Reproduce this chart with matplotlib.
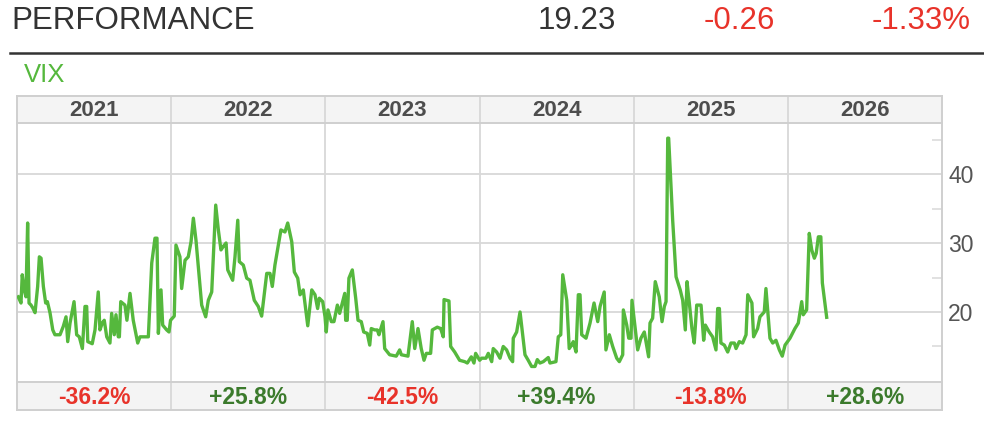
import matplotlib
matplotlib.use("Agg")
import matplotlib.pyplot as plt

plt.rcParams['font.family'] = ['Liberation Sans', 'DejaVu Sans']

# header figures
last_close = 19.23
day_change = -0.26
day_change_pct = -1.33

years = ['2021', '2022', '2023', '2024', '2025', '2026']
year_change = [-36.2, 25.8, -42.5, 39.4, -13.8, 28.6]

# VIX closes; t = years since 1 Jan 2021
t = [0.008, 0.026, 0.034, 0.047, 0.058, 0.069, 0.078, 0.091, 0.102, 0.117,
     0.134, 0.145, 0.156, 0.171, 0.186, 0.197, 0.214, 0.232, 0.246, 0.279,
     0.300, 0.318, 0.329, 0.344, 0.370, 0.387, 0.404, 0.424, 0.441, 0.452,
     0.459, 0.488, 0.506, 0.527, 0.538, 0.553, 0.566, 0.582, 0.603, 0.614,
     0.631, 0.642, 0.657, 0.664, 0.673, 0.700, 0.713, 0.733, 0.754, 0.783,
     0.798, 0.852, 0.874, 0.895, 0.908, 0.917, 0.934, 0.945, 0.971, 0.986,
     0.996,
     1.020, 1.031, 1.057, 1.068, 1.090, 1.111, 1.129, 1.144, 1.161, 1.198,
     1.224, 1.241, 1.263, 1.289, 1.306, 1.323, 1.338, 1.356, 1.367, 1.399,
     1.414, 1.432, 1.442, 1.468, 1.490, 1.511, 1.539, 1.565, 1.587, 1.620,
     1.641, 1.656, 1.673, 1.712, 1.738, 1.756, 1.782, 1.799, 1.821, 1.836,
     1.857, 1.886, 1.912, 1.933, 1.950, 1.961, 1.983, 1.998,
     2.006, 2.017, 2.039, 2.056, 2.078, 2.093, 2.110, 2.126, 2.132, 2.142,
     2.153, 2.175, 2.197, 2.212, 2.233, 2.249, 2.272, 2.288, 2.298, 2.320,
     2.337, 2.348, 2.374, 2.385, 2.417, 2.460, 2.482, 2.493, 2.536, 2.564,
     2.580, 2.601, 2.622, 2.640, 2.655, 2.683, 2.694, 2.726, 2.748, 2.765,
     2.770, 2.802, 2.813, 2.839, 2.871, 2.904, 2.921, 2.947, 2.964, 2.975,
     3.001, 3.014, 3.042, 3.057, 3.079, 3.089, 3.111, 3.133, 3.154, 3.176,
     3.198, 3.215, 3.219, 3.241, 3.263, 3.280, 3.295, 3.316, 3.338, 3.360,
     3.375, 3.392, 3.414, 3.446, 3.457, 3.496, 3.511, 3.527, 3.540, 3.566,
     3.582, 3.598, 3.608, 3.626, 3.641, 3.652, 3.663, 3.691, 3.717, 3.743,
     3.767, 3.782, 3.809, 3.820, 3.842, 3.864, 3.890, 3.907, 3.929, 3.933,
     3.955, 3.968, 3.983, 3.989,
     4.004, 4.026, 4.047, 4.069, 4.097, 4.106, 4.123, 4.140, 4.166, 4.184,
     4.199, 4.210, 4.221, 4.227, 4.238, 4.253, 4.275, 4.302, 4.318, 4.335,
     4.346, 4.361, 4.378, 4.393, 4.409, 4.437, 4.454, 4.465, 4.490, 4.512,
     4.534, 4.545, 4.556, 4.566, 4.588, 4.610, 4.631, 4.653, 4.664, 4.685,
     4.707, 4.729, 4.740, 4.767, 4.778, 4.804, 4.819, 4.847, 4.858, 4.869,
     4.884, 4.902, 4.923, 4.945, 4.964, 4.982,
     5.014, 5.046, 5.068, 5.090, 5.100, 5.122, 5.139, 5.155, 5.172, 5.184,
     5.198, 5.214, 5.224, 5.252]

vix = [22.2, 21.3, 25.4, 23.2, 22.2, 32.9, 21.3, 21.0, 20.6, 19.9,
       23.7, 28.0, 27.8, 23.7, 21.3, 21.5, 19.9, 17.4, 16.7, 16.7,
       17.9, 19.3, 15.7, 18.4, 21.5, 16.7, 16.4, 14.7, 20.8, 20.8,
       15.7, 15.4, 17.4, 22.9, 17.4, 18.4, 18.8, 16.4, 15.5, 19.8,
       16.7, 19.6, 16.4, 16.4, 21.5, 21.0, 18.8, 22.7, 18.8, 15.5,
       16.4, 16.4, 27.1, 30.7, 30.7, 16.9, 23.2, 18.1, 17.4, 17.1,
       18.8,
       19.4, 29.7, 28.0, 23.4, 27.5, 28.0, 30.2, 33.6, 30.4, 21.0,
       19.3, 21.7, 22.9, 35.5, 31.9, 29.0, 29.5, 30.0, 26.1, 24.6,
       28.0, 33.3, 27.3, 26.8, 24.9, 24.6, 21.7, 20.8, 19.4, 25.6,
       25.6, 23.7, 26.8, 31.9, 31.6, 32.9, 30.2, 25.8, 24.9, 22.5,
       23.2, 18.0, 23.2, 22.5, 20.5, 22.0, 21.5, 19.3,
       17.1, 20.3, 18.6, 18.6, 21.0, 19.8, 21.3, 22.7, 18.8, 18.8,
       24.9, 26.1, 22.0, 18.8, 18.6, 17.1, 16.9, 15.2, 17.6, 17.4,
       17.4, 16.7, 18.6, 14.7, 13.8, 13.6, 14.5, 13.8, 13.6, 18.6,
       14.7, 17.6, 14.7, 13.0, 14.0, 14.0, 17.4, 17.8, 17.6, 16.4,
       21.8, 21.6, 15.0, 14.2, 13.0, 12.8, 12.6, 13.5, 12.6, 14.0,
       13.0, 13.3, 13.3, 14.0, 12.8, 14.7, 14.2, 13.3, 15.0, 14.5,
       13.3, 12.8, 16.2, 17.1, 20.0, 16.7, 13.8, 13.0, 12.1, 12.1,
       13.1, 12.6, 12.8, 13.4, 12.6, 12.8, 16.4, 16.7, 25.4, 21.7,
       14.7, 15.2, 15.7, 14.2, 22.5, 22.5, 16.7, 16.2, 18.4, 21.3,
       18.6, 20.8, 22.9, 14.5, 16.7, 15.0, 13.3, 12.8, 13.8, 20.3,
       18.1, 16.2, 16.2, 21.7,
       18.8, 14.5, 16.2, 17.1, 13.5, 18.4, 19.1, 24.4, 22.2, 18.6,
       20.8, 21.5, 45.2, 45.2, 40.1, 33.3, 25.1, 23.2, 21.7, 17.4,
       24.4, 21.3, 17.6, 15.5, 21.0, 21.0, 15.9, 18.1, 17.1, 16.4,
       14.5, 20.5, 20.5, 15.5, 15.2, 14.2, 15.5, 15.5, 14.7, 15.7,
       15.5, 16.7, 22.5, 21.3, 16.4, 17.6, 19.3, 20.0, 23.4, 20.3,
       16.2, 15.5, 15.9, 14.5, 13.6, 15.2,
       16.2, 17.6, 18.4, 21.5, 19.6, 20.3, 31.4, 29.0, 27.8, 28.5,
       30.9, 30.9, 24.2, 19.23]

GREEN = '#55b83d'
RED = '#e8332a'
DKGREEN = '#3b7a2c'
GRID = '#d8d8d8'
BORDER = '#cfcfcf'
BAND = '#f4f4f4'
TXT = '#555555'

W, H = 984, 428
fig = plt.figure(figsize=(W / 100, H / 100), dpi=100)


def rect(x0, y0, x1, y1):
    # pixel box (top-left origin) -> figure fraction
    return [x0 / W, 1 - y1 / H, (x1 - x0) / W, (y1 - y0) / H]


# header
fig.text(11 / W, 1 - 29 / H, 'PERFORMANCE', fontsize=22.5, color='#333333', va='baseline')
fig.text(616 / W, 1 - 29 / H, f'{last_close:.2f}', fontsize=22.5, color='#333333',
         va='baseline', ha='right')
fig.text(775 / W, 1 - 29 / H, f'{day_change:.2f}', fontsize=22.5, color=RED,
         va='baseline', ha='right')
fig.text(971 / W, 1 - 29 / H, f'{day_change_pct:.2f}%', fontsize=22.5, color=RED,
         va='baseline', ha='right')
fig.add_artist(plt.Line2D([10 / W, 1], [1 - 53 / H, 1 - 53 / H], color='#333333', lw=1.8))
fig.text(24 / W, 1 - 81.5 / H, 'VIX', fontsize=18.5, color=GREEN, va='baseline')

ax = fig.add_axes(rect(17, 123, 942, 382))
top = fig.add_axes(rect(17, 96, 942, 123))
bot = fig.add_axes(rect(17, 382, 942, 410))

n = len(years)

# main plot
ax.plot(t, vix, color=GREEN, lw=2.4, zorder=3)
ax.set_xlim(0, n)
ax.set_ylim(9.85, 47.4)
ax.yaxis.tick_right()
ax.set_yticks([20, 30, 40])
ax.set_yticks([15, 25, 35, 45], minor=True)
ax.tick_params(axis='y', which='major', length=0, pad=4.5, labelsize=16.5, labelcolor=TXT)
ax.tick_params(axis='y', which='minor', length=7, width=1.1, color=GRID, direction='in')
ax.tick_params(axis='x', bottom=False, labelbottom=False)
ax.grid(axis='y', which='major', color=GRID, lw=1.3, zorder=1)
for i in range(1, n):
    ax.axvline(i, color=GRID, lw=1.3, zorder=1)
for s in ['top', 'bottom']:
    ax.spines[s].set_visible(False)
for s in ['left', 'right']:
    ax.spines[s].set_color(BORDER)
    ax.spines[s].set_linewidth(1.4)

# year bands
for band in (top, bot):
    band.set_facecolor(BAND)
    band.set_xlim(0, n)
    band.set_ylim(0, 1)
    band.set_xticks([])
    band.set_yticks([])
    for s in band.spines.values():
        s.set_color(BORDER)
        s.set_linewidth(1.4)
    for i in range(1, n):
        band.axvline(i, color=GRID, lw=1.3)

for i, (yr, ch) in enumerate(zip(years, year_change)):
    top.text(i + 0.5, 0.45, yr, ha='center', va='center', fontsize=16,
             fontweight='bold', color='#4d4d4d')
    bot.text(i + 0.5, 0.45, f'{ch:+.1f}%', ha='center', va='center', fontsize=16.5,
             fontweight='bold', color=RED if ch < 0 else DKGREEN)

fig.savefig('out.png', dpi=100)
